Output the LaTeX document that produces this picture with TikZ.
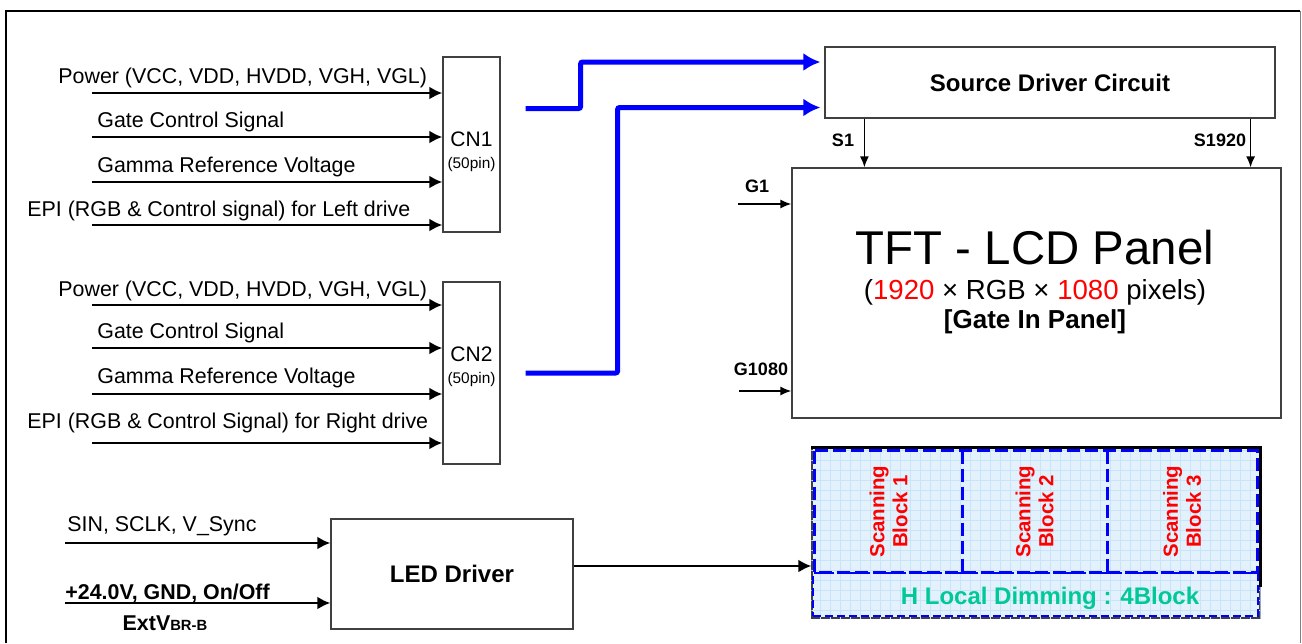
\documentclass[tikz,border=0pt]{standalone}
\usepackage{fontspec}
\setmainfont{Liberation Sans}
\usetikzlibrary{arrows.meta,positioning}
\definecolor{dimblue}{RGB}{226,241,252}
\definecolor{gridblue}{RGB}{200,228,248}
\definecolor{dimgreen}{RGB}{0,200,150}

\begin{document}
\begin{tikzpicture}[x=0.5pt,y=-0.5pt,
    box/.style={draw=black!75,line width=0.6pt,inner sep=0pt},
    sig/.style={line width=1.3pt,-{Latex[length=6.5pt,width=6.5pt]}},
    pinarr/.style={line width=0.8pt,-{Latex[length=5.5pt,width=4.5pt]}},
    bus/.style={blue,line width=2.5pt,rounded corners=1pt,shorten >=2pt,-{Latex[length=8.5pt,width=9pt]}},
    lbl/.style={font=\fontsize{10.7}{12}\selectfont,inner sep=0pt,anchor=west},
    pinlbl/.style={font=\fontsize{9}{11}\selectfont\bfseries,inner sep=0pt},
    cntxt/.style={align=center,inner sep=0pt,font=\fontsize{10.5}{11}\selectfont},
    blkline/.style={blue,line width=1.7pt,dash pattern=on 6.5pt off 2.5pt},
    blktxt/.style={text=red,font=\fontsize{10.2}{11.5}\selectfont\bfseries,align=center,rotate=90}]
    \useasboundingbox (0,0) rectangle (1302,643);
    \draw[line width=1pt] (6,643) -- (6,11) -- (1300,11);
    \draw[black!50,line width=0.5pt] (1300,11) -- (1300,643);

    \node[box,minimum width=28.5pt,minimum height=87.5pt] (cn1) at (471.5,144.5) {};
    \node[box,minimum width=28.5pt,minimum height=91pt] (cn2) at (471.5,373) {};
    \node[cntxt] (cn1txt) at (471.5,152) {CN1\\{\fontsize{7.7}{8}\selectfont(50pin)}};
    \node[cntxt] (cn2txt) at (471.5,367) {CN2\\{\fontsize{7.7}{8}\selectfont(50pin)}};
    \node[box,minimum width=225pt,minimum height=35.5pt,font=\fontsize{12}{14}\selectfont\bfseries]
        (src) at (1050,82.5) {Source Driver Circuit};
    \node[box,minimum width=244.5pt,minimum height=125pt] (pnl) at (1036.5,293) {};
    \node[box,minimum width=121pt,minimum height=55pt,font=\fontsize{12}{14}\selectfont\bfseries]
        (led) at (452,574) {LED Driver};

    \node[lbl] (l1) at (58,78) {Power (VCC, VDD, HVDD, VGH, VGL)};
    \node[lbl] (l2) at (97,122) {Gate Control Signal};
    \node[lbl] (l3) at (97,167) {Gamma Reference Voltage};
    \node[lbl] (l4) at (27,211) {EPI (RGB \& Control signal) for Left drive};
    \node[lbl] (l5) at (58,291) {Power (VCC, VDD, HVDD, VGH, VGL)};
    \node[lbl] (l6) at (97,333) {Gate Control Signal};
    \node[lbl] (l7) at (97,378) {Gamma Reference Voltage};
    \node[lbl] (l8) at (27,423) {EPI (RGB \& Control Signal) for Right drive};
    \coordinate (p1) at (92,93);
    \coordinate (p2) at (92,137);
    \coordinate (p3) at (92,182);
    \coordinate (p4) at (92,225);
    \coordinate (p5) at (92,305);
    \coordinate (p6) at (92,348);
    \coordinate (p7) at (92,394);
    \coordinate (p8) at (92,443);
    \draw[sig] (p1) -- (p1 -| cn1.west);
    \draw[sig] (p2) -- (p2 -| cn1.west);
    \draw[sig] (p3) -- (p3 -| cn1.west);
    \draw[sig] (p4) -- (p4 -| cn1.west);
    \draw[sig] (p5) -- (p5 -| cn2.west);
    \draw[sig] (p6) -- (p6 -| cn2.west);
    \draw[sig] (p7) -- (p7 -| cn2.west);
    \draw[sig] (p8) -- (p8 -| cn2.west);

    \coordinate (b1) at ([xshift=12.5pt,yshift=18pt]cn1.east);
    \coordinate (b2) at ([xshift=12.5pt]cn2.east);
    \draw[bus] (b1) -- ++(55,0) |- ([yshift=10.25pt]src.west);
    \draw[bus] (b2) -- ++(92,0) |- ([yshift=-12.5pt]src.west);

    \coordinate (s1) at ([xshift=20pt]src.south west);
    \coordinate (s1920) at ([xshift=-12.5pt]src.south east);
    \draw[pinarr] (s1) -- (s1 |- pnl.north);
    \draw[pinarr] (s1920) -- (s1920 |- pnl.north);
    \node[pinlbl] (s1lbl) at (843,140) {S1};
    \node[pinlbl] (s1920lbl) at (1220,140) {S1920};
    \coordinate (g1) at (738,204);
    \coordinate (g1080) at (739,391);
    \draw[pinarr] (g1) -- (g1 -| pnl.west);
    \draw[pinarr] (g1080) -- (g1080 -| pnl.west);
    \node[pinlbl] (g1lbl) at (757,186) {G1};
    \node[pinlbl] (g1080lbl) at (761,369) {G1080};

    \node[font=\fontsize{23.7}{26}\selectfont] (title) at (1035,248) {TFT - LCD Panel};
    \node[font=\fontsize{13.8}{16}\selectfont] (res) at (1035,292)
        {(\textcolor{red}{1920} × RGB × \textcolor{red}{1080} pixels)};
    \node[font=\fontsize{13}{15}\selectfont\bfseries] (gip) at (1035,322) {[Gate In Panel]};

    \node[lbl] (l9) at (67,526) {SIN, SCLK, V\_Sync};
    \node[lbl,font=\fontsize{10.7}{12}\selectfont\bfseries] (l10) at (65,593) {+24.0V, GND, On/Off};
    \node[font=\fontsize{10.7}{12}\selectfont\bfseries,inner sep=0pt] (l11) at (165,623)
        {ExtV{\fontsize{7.4}{8}\selectfont BR-B}};
    \coordinate (p9) at (65,543);
    \coordinate (p10) at (65,603);
    \draw[sig] (p9) -- (p9 -| led.west);
    \draw[sig] (p10) -- (p10 -| led.west);

    \node[box,fill=dimblue,minimum width=224pt,minimum height=85pt] (dim) at (1036,533) {};
    \begin{scope}
        \clip (dim.south west) rectangle (dim.north east);
        \draw[gridblue,line width=0.3pt,step=5pt] (dim.south west) grid (dim.north east);
    \end{scope}
    \draw[line width=1.4pt] (dim.north west) -- (dim.north east) -- ([yshift=-70pt]dim.north east);
    \draw[sig] ([yshift=4pt]led.east) -- ([yshift=4pt]led.east -| dim.west);

    \node[inner sep=0pt,minimum width=73.5pt,minimum height=60.5pt] (blk1) at (888.5,511.5) {};
    \node[inner sep=0pt,minimum width=72.5pt,minimum height=60.5pt] (blk2) at (1034.5,511.5) {};
    \node[inner sep=0pt,minimum width=75pt,minimum height=60.5pt] (blk3) at (1182,511.5) {};
    \draw[blkline] (blk1.north west) rectangle (blk3.south east);
    \draw[blkline] (blk1.north east) -- (blk1.south east);
    \draw[blkline] (blk2.north east) -- (blk2.south east);
    \node[draw=blue,line width=0.8pt,dash pattern=on 4pt off 2pt,inner sep=0pt,
        minimum width=222.5pt,minimum height=21.5pt] (hdim) at (1035.5,594.5) {};
    \node[blktxt] (t1) at (blk1) {Scanning\\Block 1};
    \node[blktxt] (t2) at (blk2) {Scanning\\Block 2};
    \node[blktxt] (t3) at (blk3) {Scanning\\Block 3};
    \node[text=dimgreen,font=\fontsize{12}{14}\selectfont\bfseries] (dimtxt) at (1050,598)
        {H Local Dimming : 4Block};
\end{tikzpicture}
\end{document}
